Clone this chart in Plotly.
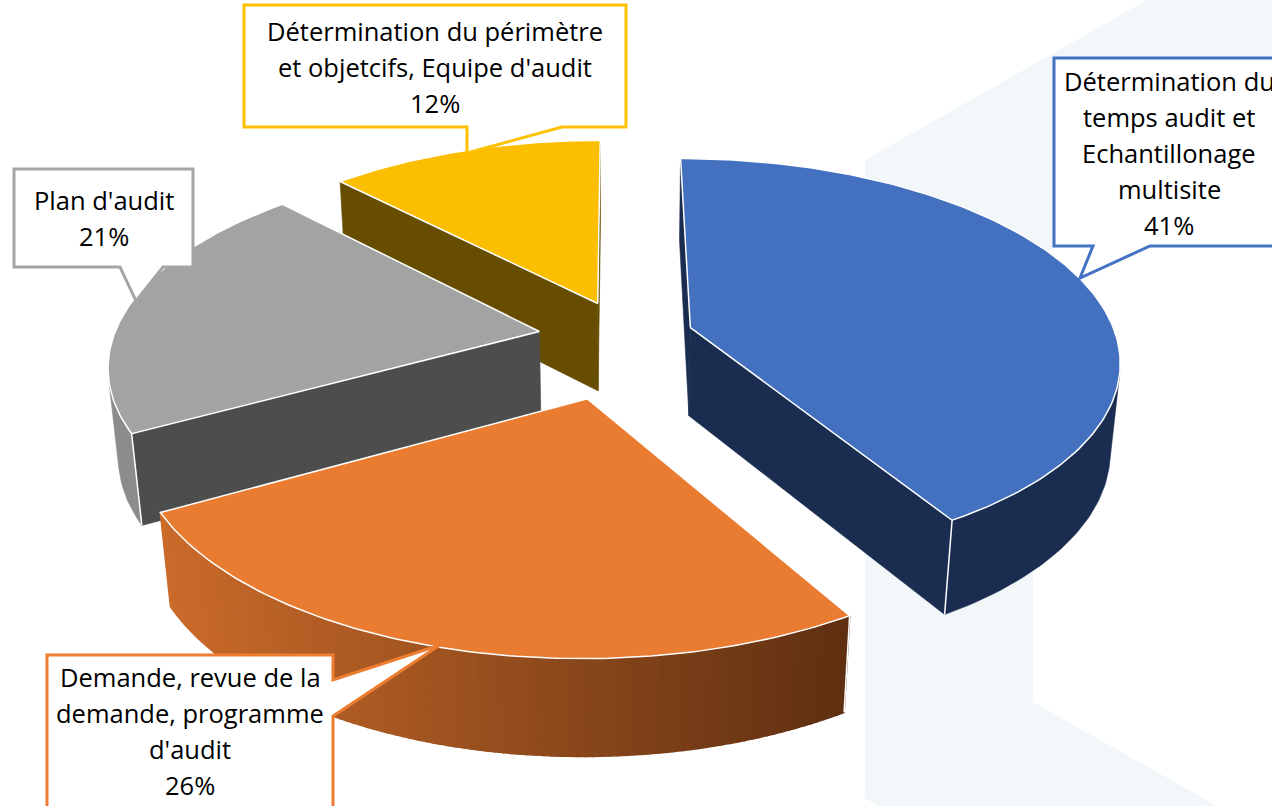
import math
import plotly.graph_objects as go

# ---- data ----
categories = ["Détermination du temps audit et Echantillonage multisite",
              "Demande, revue de la demande, programme d'audit",
              "Plan d'audit",
              "Détermination du périmètre et objetcifs, Equipe d'audit"]
shares = [41.4, 25.6, 20.8, 12.2]
label_lines = [["Détermination du", "temps audit et", "Echantillonage", "multisite"],
               ["Demande, revue de la", "demande, programme", "d'audit"],
               ["Plan d'audit"],
               ["Détermination du périmètre", "et objetcifs, Equipe d'audit"]]

# ---- style ----
top_colors = ["#4371C0", "#EA7C31", "#A3A3A3", "#FBBE00"]
border_colors = ["#4472C4", "#ED7D31", "#A5A5A5", "#FFC000"]
inner_colors = ["#1A2C50", "#5E2F11", "#4D4D4D", "#664D00"]
outer_colors = ["#1A2C50", None, "#8C8C8C", "#664D00"]
explode = [0.18, 0.305, 0.185, 0.18]
explode_turn = [0, -2.6, 0, 7]
draw_order = [0, 3, 2, 1]
seams = {0: "end", 1: "start", 2: "start"}
W, H = 1272, 806
CX, CY, A, B, K, M, DEPTH = 617, 337, 426, 198, 0.155, 0.02, 90
FONT = "Open Sans"
FSIZE = 25.5


def project(u, v, z):
    w = 1 + K * v + M * z
    return CX + A * u / w, CY - B * v / w + DEPTH * z / w ** 0.8


def lerp_hex(c0, c1, t):
    a = [int(c0[i:i + 2], 16) for i in (1, 3, 5)]
    b = [int(c1[i:i + 2], 16) for i in (1, 3, 5)]
    return "#%02x%02x%02x" % tuple(round(p + (q - p) * t) for p, q in zip(a, b))


def poly(points, fill, line=None, lw=0.6):
    return go.Scatter(x=[p[0] for p in points] + [points[0][0]],
                      y=[p[1] for p in points] + [points[0][1]],
                      mode="lines", fill="toself", fillcolor=fill,
                      line=dict(color=line or fill, width=lw),
                      hoverinfo="skip", showlegend=False)


def front(q):
    s = 0
    for i in range(len(q)):
        x0, y0 = q[i]
        x1, y1 = q[(i + 1) % len(q)]
        s += x0 * y1 - x1 * y0
    return s < 0


fig = go.Figure()
starts = []
acc = 0
for s in shares:
    starts.append(acc)
    acc += s
total = sum(shares)

for i in draw_order:
    t0 = math.radians(starts[i] / total * 360)
    t1 = math.radians((starts[i] + shares[i]) / total * 360)
    tm = (t0 + t1) / 2 + math.radians(explode_turn[i])
    ou, ov = explode[i] * math.sin(tm), explode[i] * math.cos(tm)
    n = max(8, int(shares[i] * 4))
    rim = [(ou + math.sin(t0 + (t1 - t0) * j / n), ov + math.cos(t0 + (t1 - t0) * j / n)) for j in range(n + 1)]
    T = lambda p: project(p[0], p[1], 0)
    Bo = lambda p: project(p[0], p[1], 1)
    apex = (ou, ov)
    # inner walls
    for a_, b_ in ((apex, rim[0]), (rim[-1], apex)):
        q = [T(a_), T(b_), Bo(b_), Bo(a_)]
        if front(q):
            fig.add_trace(poly(q, inner_colors[i]))
    # outer wall
    visible = [j for j in range(n) if front([T(rim[j]), T(rim[j + 1]), Bo(rim[j + 1]), Bo(rim[j])])]
    if outer_colors[i] and visible:
        j0, j1 = visible[0], visible[-1] + 1
        pts = [T(rim[j]) for j in range(j0, j1 + 1)] + [Bo(rim[j]) for j in range(j1, j0 - 1, -1)]
        fig.add_trace(poly(pts, outer_colors[i]))
    else:
        for j in visible:
            q = [T(rim[j]), T(rim[j + 1]), Bo(rim[j + 1]), Bo(rim[j])]
            xm = (q[0][0] + q[1][0]) / 2
            c = lerp_hex("#CB6B2A", "#5E2F11", min(1, max(0, (xm - 160) / 690)))
            fig.add_trace(poly(q, c, lw=1.6))
    # seam
    if i in seams:
        p = rim[-1] if seams[i] == "end" else rim[0]
        a1, b1 = T(p), Bo(p)
        fig.add_trace(go.Scatter(x=[a1[0], b1[0]], y=[a1[1], b1[1]], mode="lines",
                                 line=dict(color="white", width=1.5), hoverinfo="skip", showlegend=False))
    # top
    fig.add_trace(poly([T(apex)] + [T(p) for p in rim], top_colors[i], "white", 1.5))

shapes = [dict(type="path", layer="below", line=dict(width=0), fillcolor="#F2F7FA",
               path="M865,160 L1147,0 L1272,0 L1272,124 L1033,260 L1033,702 L1217,806 L878,806 L865,798 Z")]
callouts = [
    "M1054,58 L1280,58 L1280,246 L1150,246 L1080,278 L1093,246 L1054,246 Z",
    "M47,655 L333,655 L333,680 L440,645 L333,716 L333,815 L47,815 Z",
    "M14,169 L193,169 L193,267 L163,267 L136,301 L120,267 L14,267 Z",
    "M244,5 L626,5 L626,127 L562,127 L467,153 L467,127 L244,127 Z",
]
for path, col in zip(callouts, border_colors):
    shapes.append(dict(type="path", layer="above", path=path, fillcolor="white",
                       line=dict(color=col, width=3)))

centers = [(1169, 81), (190, 677), (104, 200), (435, 31)]
annotations = []
for lines, s, (xc, y0) in zip(label_lines, shares, centers):
    for j, t in enumerate(lines + [f"{round(s)}%"]):
        annotations.append(dict(x=xc, y=y0 + 36 * j, text=t, showarrow=False, xanchor="center",
                                yanchor="middle", font=dict(family=FONT, size=FSIZE, color="black")))

fig.update_layout(width=W, height=H, margin=dict(l=0, r=0, t=0, b=0), autosize=False,
                  paper_bgcolor="white", plot_bgcolor="white", shapes=shapes, annotations=annotations,
                  xaxis=dict(range=[0, W], visible=False, fixedrange=True),
                  yaxis=dict(range=[H, 0], visible=False, fixedrange=True),
                  showlegend=False)
fig.write_html("out.html", config=dict(displayModeBar=False),
               post_script="document.body.style.margin='0';document.documentElement.style.overflow='hidden';")
